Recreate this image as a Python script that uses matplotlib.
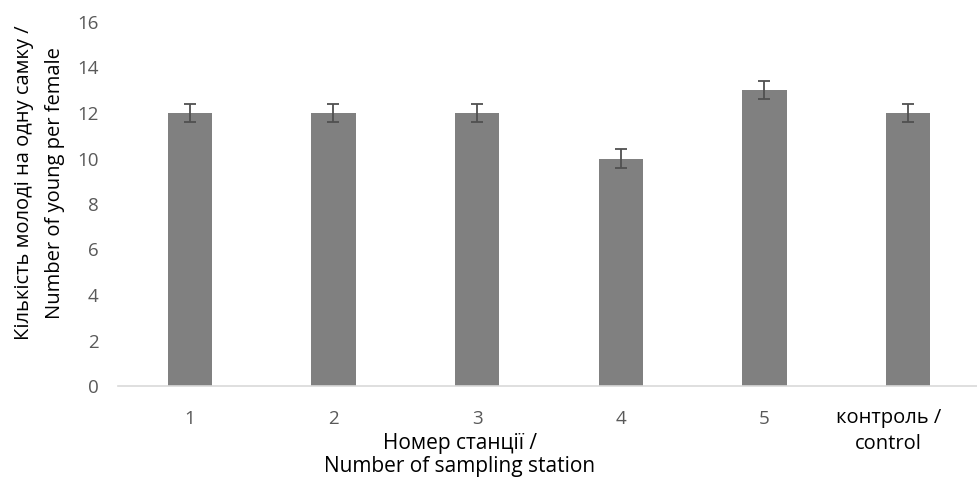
import numpy as np
import matplotlib
matplotlib.use('Agg')
import matplotlib.pyplot as plt
import matplotlib.transforms as mtransforms

plt.rcParams['font.family'] = ['Open Sans', 'DejaVu Sans']

stations = ['1', '2', '3', '4', '5', 'контроль /\ncontrol']
young = [12, 12, 12, 10, 13, 12]
err = [0.4, 0.4, 0.4, 0.4, 0.4, 0.4]
yticks = [0, 2, 4, 6, 8, 10, 12, 14, 16]

fig = plt.figure(figsize=(9.78, 4.8), dpi=100)
ax = fig.add_axes([118/978, 1-386/480, 862/978, 364/480])

x = np.arange(len(stations))
ax.bar(x, young, width=0.31, color='#808080', zorder=2)
ax.errorbar(x, young, yerr=err, fmt='none', ecolor='#505050',
            elinewidth=1.3, capsize=4.5, capthick=1.3, zorder=3)

ax.set_xlim(-0.5, len(stations) - 0.5)
ax.set_ylim(0, 16)
ax.set_yticks(yticks)
ax.set_xticks(x)
ax.set_xticklabels(stations)
ax.tick_params(axis='both', length=0, labelsize=13.5, labelcolor='#595959')
ax.tick_params(axis='x', pad=17)
ax.tick_params(axis='y', pad=14)
# the control label is drawn black, larger, and wrapped a bit to the left
lab = ax.get_xticklabels()[-1]
lab.set_color('black')
lab.set_fontsize(14.5)
lab.set_linespacing(1.4)
lab.set_transform(lab.get_transform() +
                  mtransforms.ScaledTranslation(-20/100, 2/100, fig.dpi_scale_trans))

for s in ['top', 'right', 'left']:
    ax.spines[s].set_visible(False)
ax.spines['bottom'].set_color('#d9d9d9')
ax.spines['bottom'].set_linewidth(1.2)

# x label sits a little left of station 3
trans = mtransforms.blended_transform_factory(ax.transData, ax.transAxes)
ax.text(1.88, -0.128, 'Номер станції /\nNumber of sampling station',
        transform=trans, ha='center', va='top', fontsize=15,
        linespacing=1.12)

ax.set_ylabel('Кількість молоді на одну самку /\nNumber of young per female',
              fontsize=14.5, linespacing=1.75)
ax.yaxis.set_label_coords(-0.061, 0.558)

fig.savefig('out.png', dpi=100)
